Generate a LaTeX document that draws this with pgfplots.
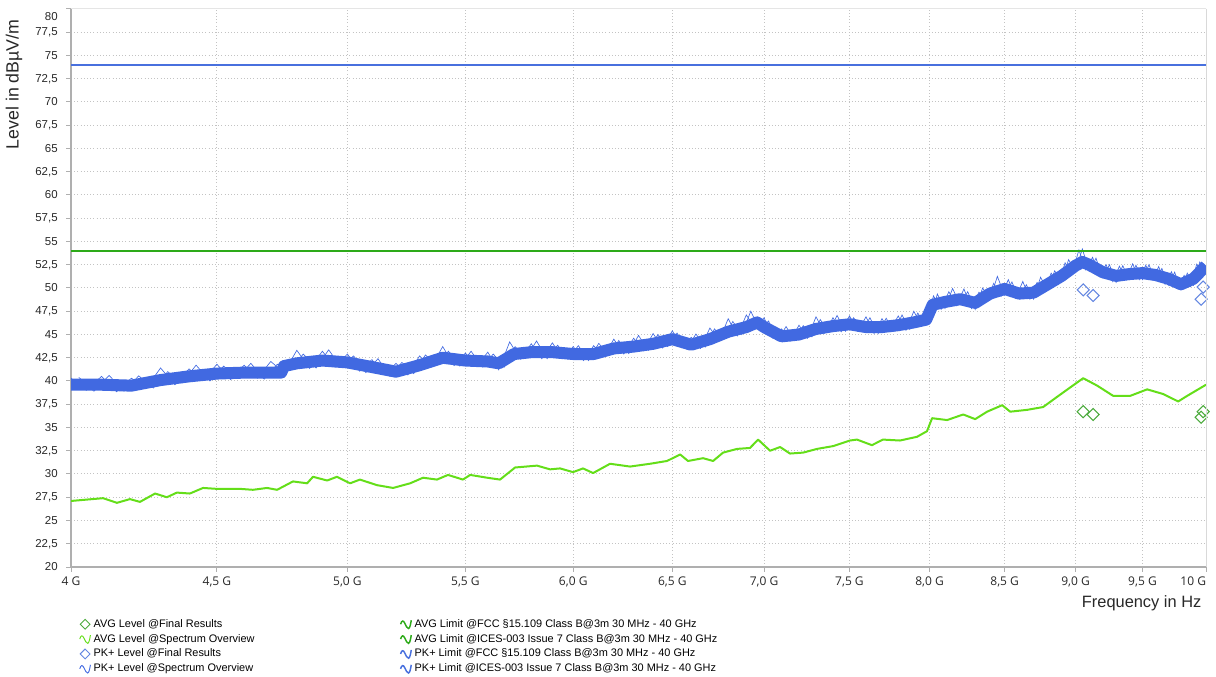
\documentclass[border=0pt]{standalone}
\usepackage{fontspec}
\setmainfont{Liberation Sans}
\newfontfamily\tickfont{Open Sans}
\usepackage{pgfplots}
\usepackage{pgfplotstable}
\pgfplotsset{compat=1.18}
\definecolor{pkblue}{RGB}{65,105,225}
\definecolor{pklim}{RGB}{72,112,222}
\definecolor{avggreen}{RGB}{100,222,25}
\definecolor{avglim}{RGB}{45,170,25}
\definecolor{avgdia}{RGB}{75,170,60}
\definecolor{pkdia}{RGB}{100,135,225}
\definecolor{gridgray}{RGB}{195,195,195}
\definecolor{axgray}{RGB}{175,175,175}
\definecolor{txt}{RGB}{40,40,40}

\pgfplotstableread{
f v
4.00 39.6
4.10 39.6
4.20 39.5
4.30 40.1
4.40 40.5
4.50 40.8
4.60 40.9
4.74 40.9
4.75 41.6
4.80 41.9
4.90 42.2
5.00 42.0
5.10 41.5
5.20 41.0
5.30 41.7
5.40 42.5
5.50 42.2
5.60 42.1
5.65 41.9
5.72 42.9
5.80 43.1
5.90 43.1
6.00 42.9
6.10 42.9
6.20 43.5
6.30 43.7
6.40 44.0
6.50 44.5
6.60 43.9
6.70 44.5
6.80 45.3
6.90 45.8
6.96 46.3
7.00 45.8
7.10 44.8
7.20 45.0
7.30 45.6
7.40 45.9
7.50 46.1
7.60 45.8
7.70 45.8
7.80 46.0
7.90 46.3
7.98 46.6
8.02 48.2
8.10 48.5
8.20 48.8
8.30 48.4
8.40 49.4
8.50 49.9
8.60 49.4
8.70 49.5
8.80 50.4
8.90 51.3
9.00 52.4
9.05 52.8
9.10 52.5
9.20 51.7
9.30 51.3
9.40 51.5
9.50 51.6
9.60 51.4
9.70 51.0
9.80 50.4
9.90 51.0
10.00 52.4
}\pkcenter

\pgfplotstableread{
f v
4.00 40.3
4.05 39.0
4.10 40.5
4.15 38.85
4.20 40.3
4.25 39.2
4.30 41.4
4.35 39.6
4.40 41.3
4.45 40.05
4.50 41.8
4.55 40.15
4.60 41.7
4.65 40.3
4.70 42.1
4.75 40.9
4.80 43.3
4.85 41.35
4.90 43.2
4.95 41.5
5.00 42.9
5.05 41.05
5.10 42.3
5.15 40.65
5.20 41.9
5.25 40.65
5.30 42.7
5.35 41.5
5.40 43.7
5.45 41.65
5.50 43.0
5.55 41.55
5.60 43.1
5.65 41.2
5.70 44.2
5.75 42.35
5.80 44.0
5.85 42.4
5.90 44.1
5.95 42.4
6.00 43.7
6.05 42.2
6.10 43.8
6.15 42.6
6.20 44.5
6.25 42.9
6.30 44.6
6.35 43.25
6.40 45.1
6.45 43.55
6.50 45.4
6.55 43.6
6.60 44.7
6.65 43.5
6.70 45.7
6.75 44.3
6.80 46.7
6.85 44.85
6.90 47.1
6.95 45.6
7.00 46.8
7.05 44.6
7.10 45.6
7.15 44.3
7.20 46.0
7.25 44.6
7.30 46.9
7.35 45.15
7.40 46.8
7.45 45.3
7.50 47.0
7.55 45.35
7.60 46.9
7.65 45.1
7.70 46.7
7.75 45.3
7.80 47.0
7.85 45.45
7.90 47.5
7.95 45.9
7.98 47.4
8.02 47.5
8.05 49.35
8.10 47.8
8.15 49.95
8.20 48.2
8.25 49.6
8.30 47.7
8.35 50.0
8.40 48.8
8.45 51.25
8.50 49.2
8.55 50.65
8.60 48.8
8.65 50.35
8.70 48.8
8.75 51.15
8.80 49.8
8.85 51.85
8.90 50.6
8.95 53.05
9.00 51.8
9.05 54.2
9.10 51.8
9.15 53.2
9.20 51.1
9.25 52.5
9.30 50.6
9.35 52.4
9.40 50.9
9.45 52.45
9.50 50.9
9.55 52.5
9.60 50.8
9.65 52.1
9.70 50.3
9.75 51.7
9.80 49.8
9.85 51.6
9.90 50.3
9.95 52.8
10.00 51.8
}\pkzig

\pgfplotstableread{
f v
4.025 40.4
4.075 38.9
4.125 40.6
4.175 38.9
4.225 40.55
4.275 39.25
4.325 41.0
4.375 39.8
4.425 41.7
4.475 40.0
4.525 41.6
4.575 40.3
4.625 41.9
4.675 40.2
4.725 41.8
4.775 41.15
4.825 42.9
4.875 41.4
4.925 43.35
4.975 41.45
5.025 42.7
5.075 40.9
5.125 42.4
5.175 40.5
5.225 42.0
5.275 40.8
5.325 42.8
5.375 41.7
5.425 43.2
5.475 41.6
5.525 43.2
5.575 41.5
5.625 42.9
5.675 41.5
5.725 43.7
5.775 42.45
5.825 44.3
5.875 42.4
5.925 43.85
5.975 42.35
6.025 43.8
6.075 42.2
6.125 44.05
6.175 42.75
6.225 44.35
6.275 42.95
6.325 44.9
6.375 43.3
6.425 45.0
6.475 43.7
6.525 45.15
6.575 43.45
6.625 45.05
6.675 43.65
6.725 45.6
6.775 44.5
6.825 46.4
6.875 45.0
6.925 47.5
6.975 45.5
7.025 46.45
7.075 44.35
7.125 45.85
7.175 44.35
7.225 45.95
7.275 44.75
7.325 46.6
7.375 45.25
7.425 47.05
7.475 45.35
7.525 46.8
7.575 45.3
7.625 46.8
7.675 45.1
7.725 46.75
7.775 45.35
7.825 47.1
7.875 45.55
7.925 47.3
7.975 46.0
8.025 49.15
8.075 47.7
8.125 49.6
8.175 48.1
8.225 49.9
8.275 47.8
8.325 49.55
8.375 48.55
8.425 50.5
8.475 49.1
8.525 50.9
8.575 48.9
8.625 50.7
8.675 48.8
8.725 50.6
8.775 49.6
8.825 51.6
8.875 50.4
8.925 52.7
8.975 51.5
9.025 54.1
9.075 51.95
9.125 53.3
9.175 51.3
9.225 52.5
9.275 50.7
9.325 52.35
9.375 50.85
9.425 52.6
9.475 50.9
9.525 52.45
9.575 50.85
9.625 52.3
9.675 50.4
9.725 51.75
9.775 49.95
9.825 51.35
9.875 50.15
9.925 52.55
9.975 51.45
}\pkzigb

\pgfplotstableread{
f v
4.000 27.1
4.105 27.4
4.151 26.9
4.195 27.3
4.229 27.0
4.281 27.9
4.322 27.5
4.357 28.0
4.403 27.9
4.450 28.5
4.501 28.4
4.585 28.4
4.633 28.3
4.686 28.5
4.724 28.3
4.785 29.2
4.840 29.0
4.863 29.7
4.919 29.3
4.958 29.7
5.011 29.0
5.051 29.4
5.121 28.8
5.188 28.5
5.260 29.0
5.315 29.6
5.375 29.4
5.423 29.9
5.476 29.5
5.489 29.4
5.521 29.9
5.597 29.6
5.656 29.4
5.725 30.7
5.827 30.9
5.889 30.5
5.937 30.6
5.999 30.2
6.048 30.6
6.097 30.1
6.181 31.1
6.282 30.8
6.384 31.1
6.472 31.4
6.541 32.1
6.583 31.4
6.663 31.7
6.717 31.4
6.772 32.3
6.849 32.7
6.921 32.8
6.966 33.7
7.034 32.5
7.091 32.9
7.148 32.2
7.224 32.3
7.306 32.7
7.401 33.0
7.503 33.6
7.545 33.7
7.637 33.1
7.706 33.7
7.812 33.6
7.920 34.0
7.984 34.6
8.016 36.0
8.114 35.8
8.220 36.4
8.300 35.9
8.380 36.7
8.483 37.4
8.538 36.7
8.656 36.9
8.768 37.2
8.868 38.3
8.961 39.3
9.056 40.3
9.159 39.5
9.278 38.4
9.406 38.4
9.536 39.1
9.660 38.6
9.778 37.8
9.849 38.4
10.000 39.6
}\avgtrace

\pgfplotstableread{
f v
9.056 49.8
9.129 49.2
9.961 48.8
9.977 50.1
}\pkfinal

\pgfplotstableread{
f v
9.056 36.7
9.129 36.4
9.961 36.1
9.977 36.7
}\avgfinal

\pgfplotsset{
  wave/.style={legend image code/.code={%
    \draw[##1] (0pt,0pt) .. controls (0.8pt,2.8pt) and (2pt,3.2pt) .. (3pt,1pt)
      .. controls (4pt,-1.2pt) and (5pt,-3.4pt) .. (6pt,-3.2pt)
      .. controls (7pt,-3pt) and (7.6pt,0.5pt) .. (8pt,3pt);}},
  dialeg/.style={legend image code/.code={%
    \draw[##1] plot coordinates {(4pt,0pt)};}},
}

\begin{document}
\begin{tikzpicture}
\useasboundingbox (-53.25pt,-82.5pt) rectangle (858.75pt,425.25pt);
\begin{axis}[
  at={(0pt,0pt)}, anchor=south west,
  scale only axis, width=851.25pt, height=418.5pt,
  xmode=log, xmin=4, xmax=10, ymin=20, ymax=80,
  xtick={4,4.5,5,5.5,6,6.5,7,7.5,8,8.5,9,9.5,10},
  xticklabels={4 G,{4,5 G},{5,0 G},{5,5 G},{6,0 G},{6,5 G},{7,0 G},{7,5 G},{8,0 G},{8,5 G},{9,0 G},{9,5 G},{\hbox to 0pt{\hss 10 G}}},
  minor xtick={},
  ytick={20,22.5,25,27.5,30,32.5,35,37.5,40,42.5,45,47.5,50,52.5,55,57.5,60,62.5,65,67.5,70,72.5,75,77.5,80},
  yticklabels={20,{22,5},25,{27,5},30,{32,5},35,{37,5},40,{42,5},45,{47,5},50,{52,5},55,{57,5},60,{62,5},65,{67,5},70,{72,5},75,{77,5},{\smash{\raisebox{-9pt}{80}}}},
  axis lines*=left,
  axis line style={axgray, line width=1pt, -},
  tick align=outside, major tick length=3.5pt,
  tick style={axgray, line width=0.75pt},
  xmajorgrids, ymajorgrids,
  grid style={gridgray, dotted, line width=0.75pt},
  xticklabel style={font=\tickfont\fontsize{9}{11}\selectfont, text=txt},
  yticklabel style={font=\fontsize{8.6}{10.5}\selectfont, text=txt, xshift=-3pt},
  xlabel={Frequency in Hz},
  ylabel={Level in dBµV/m},
  every axis x label/.style={at={(rel axis cs:1,0)}, yshift=-27pt, anchor=east, font=\fontsize{12.3}{14}\selectfont, text=txt},
  every axis y label/.style={at={(rel axis cs:0,1)}, xshift=-42.75pt, yshift=-4.5pt, rotate=90, anchor=east, font=\fontsize{13.3}{15}\selectfont, text=txt},
  legend columns=2,
  legend cell align=left,
  legend style={at={(rel axis cs:0,0)}, anchor=north west, xshift=3pt, yshift=-35pt,
    draw=none, fill=none, font=\fontsize{8.2}{9.5}\selectfont, row sep=-0.3pt,
    /tikz/every even column/.append style={column sep=107pt}},
]
\addlegendimage{dialeg, only marks, mark=square, mark size=2.6pt, mark options={rotate=45, avgdia, line width=0.7pt}}
\addlegendentry{AVG Level @Final Results}
\addlegendimage{wave, no marks, avglim, line width=1.1pt}
\addlegendentry{AVG Limit @FCC §15.109 Class B@3m 30 MHz - 40 GHz}
\addlegendimage{wave, no marks, avggreen, line width=0.7pt}
\addlegendentry{AVG Level @Spectrum Overview}
\addlegendimage{wave, no marks, avglim, line width=1.1pt}
\addlegendentry{AVG Limit @ICES-003 Issue 7 Class B@3m 30 MHz - 40 GHz}
\addlegendimage{dialeg, only marks, mark=square, mark size=2.6pt, mark options={rotate=45, pkdia, line width=0.7pt}}
\addlegendentry{PK+ Level @Final Results}
\addlegendimage{wave, no marks, pklim, line width=1.1pt}
\addlegendentry{PK+ Limit @FCC §15.109 Class B@3m 30 MHz - 40 GHz}
\addlegendimage{wave, no marks, pkblue, line width=0.7pt}
\addlegendentry{PK+ Level @Spectrum Overview}
\addlegendimage{wave, no marks, pklim, line width=1.1pt}
\addlegendentry{PK+ Limit @ICES-003 Issue 7 Class B@3m 30 MHz - 40 GHz}

\addplot[forget plot, no marks, pkblue, line width=9pt, line join=round] table[x=f,y=v] {\pkcenter};
\addplot[forget plot, no marks, pkblue, line width=0.5pt] table[x=f,y=v] {\pkzig};
\addplot[forget plot, no marks, pkblue, line width=0.5pt] table[x=f,y=v] {\pkzigb};
\addplot[forget plot, no marks, avggreen, line width=1.5pt, line join=round] table[x=f,y=v] {\avgtrace};
\addplot[forget plot, only marks, mark=square, mark size=3.2pt, mark options={rotate=45, pkdia, line width=0.8pt}] table[x=f,y=v] {\pkfinal};
\addplot[forget plot, only marks, mark=square, mark size=3.2pt, mark options={rotate=45, avgdia, line width=0.8pt}] table[x=f,y=v] {\avgfinal};
\addplot[forget plot, no marks, pklim, line width=1.8pt] coordinates {(4,74) (10,74)};
\addplot[forget plot, no marks, avglim, line width=1.8pt] coordinates {(4,54) (10,54)};
\end{axis}
\draw[gray!20, line width=0.75pt] (current axis.north west) -- (current axis.north east);
\draw[gray!30, line width=0.75pt] (current axis.north east) -- (current axis.south east);
\end{tikzpicture}
\end{document}
